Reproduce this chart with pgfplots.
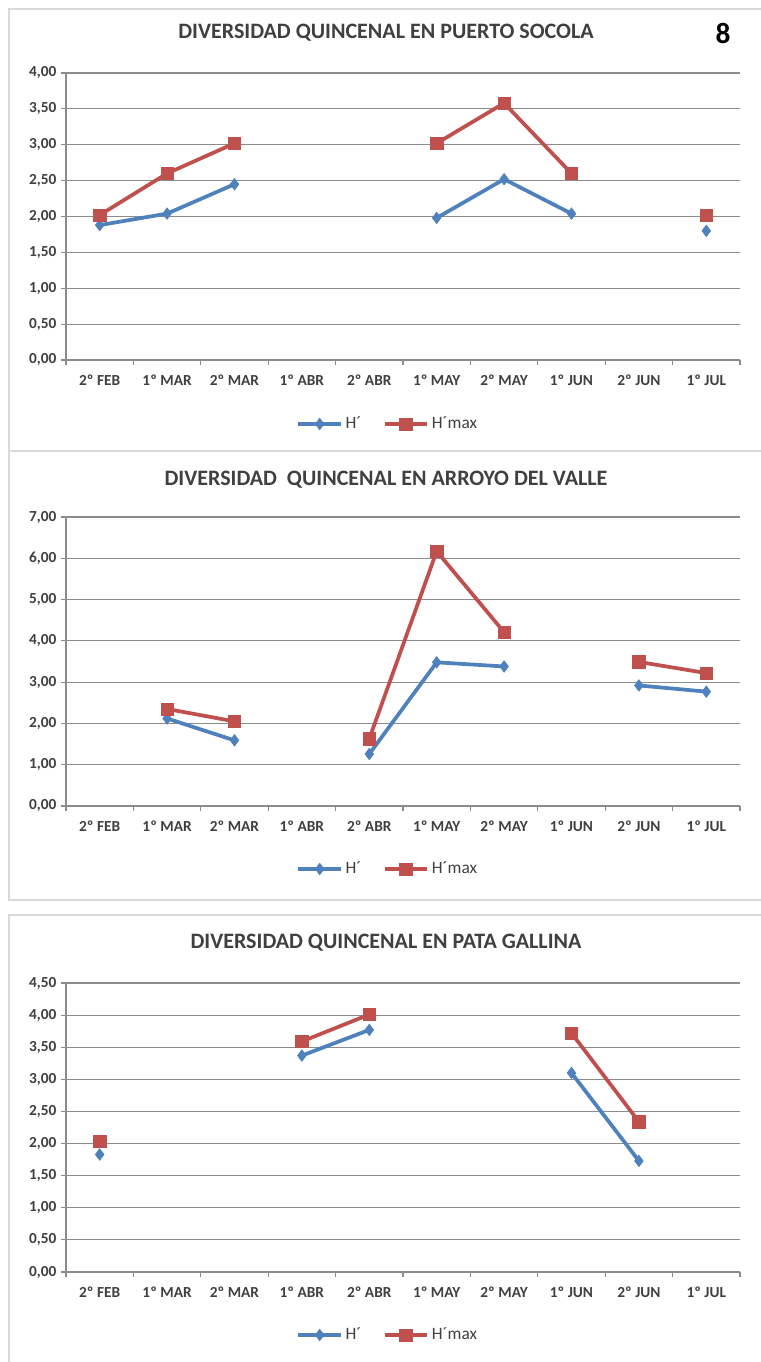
\documentclass[border=0pt]{standalone}
\usepackage{pgfplots}
\pgfplotsset{compat=1.18}
\usepackage{pgfplotstable}
\usepackage{fontspec}
\setmainfont{Carlito}
\definecolor{hblue}{RGB}{79,129,189}
\definecolor{hred}{RGB}{192,80,77}
\definecolor{txt}{RGB}{64,64,64}
\definecolor{gridc}{RGB}{140,140,140}
\definecolor{frame}{RGB}{217,217,217}

\pgfplotstableread{
x H Hmax
0 1.88 2.02
1 2.04 2.60
2 2.45 3.02
3 nan nan
4 nan nan
5 1.98 3.02
6 2.52 3.58
7 2.04 2.60
8 nan nan
9 1.80 2.02
}\socola
\pgfplotstableread{
x H Hmax
0 nan nan
1 2.12 2.35
2 1.59 2.05
3 nan nan
4 1.26 1.63
5 3.48 6.17
6 3.38 4.21
7 nan nan
8 2.92 3.49
9 2.77 3.22
}\valle
\pgfplotstableread{
x H Hmax
0 1.83 2.03
1 nan nan
2 nan nan
3 3.37 3.59
4 3.77 4.01
5 nan nan
6 nan nan
7 3.10 3.72
8 1.73 2.34
9 nan nan
}\gallina

\pgfplotsset{
  panel/.style={
    scale only axis, width=505.5pt,
    xmin=-0.5, xmax=9.5, ymin=0,
    unbounded coords=jump,
    axis x line*=bottom, axis y line*=left,
    axis line style={gridc, line width=0.8pt, -},
    ymajorgrids, grid style={gridc, line width=0.8pt},
    xtick={0,...,9},
    xticklabels={2º FEB,1º MAR,2º MAR,1º ABR,2º ABR,1º MAY,2º MAY,1º JUN,2º JUN,1º JUL},
    major x tick style={draw=none},
    minor xtick={-0.5,0.5,...,9.5},
    tick align=outside, major tick length=3.75pt, minor tick length=3.75pt,
    tick style={gridc, line width=0.8pt},
    ticklabel style={font=\fontsize{11.5}{13}\selectfont\bfseries, text=txt},
    xticklabel style={yshift=-4pt},
    yticklabel style={/pgf/number format/.cd, fixed, fixed zerofill, precision=2, use comma, assume math mode=true},
    legend columns=2,
    legend style={draw=none, fill=none, font=\fontsize{13}{15}\selectfont, text=txt,
      /tikz/every even column/.append style={column sep=14pt}},
    legend cell align=left,
    legend image code/.code={\draw[mark repeat=2, mark phase=2] plot coordinates {(0pt,0pt) (16pt,0pt) (32pt,0pt)};},
  },
  hline/.style={hblue, line width=2.8pt, mark=diamond*, mark size=4.3pt, mark options={fill=hblue, draw=hblue, line width=0.5pt}},
  rline/.style={hred, line width=2.8pt, mark=square*, mark size=4.6pt, mark options={fill=hred, draw=hred, line width=0.5pt}},
}

\begin{document}
\begin{tikzpicture}[x=0.75pt, y=-0.75pt]
\fill[white] (0,0) rectangle (760,1362);
\draw[frame, line width=0.8pt] (9,9) rectangle (762,451);
\draw[frame, line width=0.8pt] (9,451) rectangle (762,900);
\draw[frame, line width=0.8pt] (9,915) rectangle (762,1365);
\coordinate (p1) at (66,360);
\coordinate (p2) at (66,806);
\coordinate (p3) at (66,1272);

\node[font=\fontsize{16.5}{19}\selectfont\bfseries, text=txt] at (386,33) {DIVERSIDAD QUINCENAL EN PUERTO SOCOLA};
\node[font=\fontsize{22}{24}\selectfont\bfseries, text=black] at (723,33) {8};
\node[font=\fontsize{16.5}{19}\selectfont\bfseries, text=txt] at (386,480) {DIVERSIDAD\ \ QUINCENAL EN ARROYO DEL VALLE};
\node[font=\fontsize{16.5}{19}\selectfont\bfseries, text=txt] at (386,943) {DIVERSIDAD QUINCENAL EN PATA GALLINA};

\begin{axis}[panel, at={(p1)}, anchor=south west, height=215.25pt,
  ymax=4, ytick={0,0.5,...,4},
  legend style={at={(0.478,-0.223)}, anchor=center}]
\addplot[hline] table[x=x, y=H] {\socola};
\addplot[rline] table[x=x, y=Hmax] {\socola};
\legend{H´, H´max}
\end{axis}

\begin{axis}[panel, at={(p2)}, anchor=south west, height=216.75pt,
  ymax=7, ytick={0,1,...,7},
  legend style={at={(0.478,-0.218)}, anchor=center}]
\addplot[hline] table[x=x, y=H] {\valle};
\addplot[rline] table[x=x, y=Hmax] {\valle};
\legend{H´, H´max}
\end{axis}

\begin{axis}[panel, at={(p3)}, anchor=south west, height=216.75pt,
  ymax=4.5, ytick={0,0.5,...,4.5},
  legend style={at={(0.478,-0.218)}, anchor=center}]
\addplot[hline] table[x=x, y=H] {\gallina};
\addplot[rline] table[x=x, y=Hmax] {\gallina};
\legend{H´, H´max}
\end{axis}

\pgfresetboundingbox
\useasboundingbox (0,0) rectangle (760,1362);
\end{tikzpicture}
\end{document}
